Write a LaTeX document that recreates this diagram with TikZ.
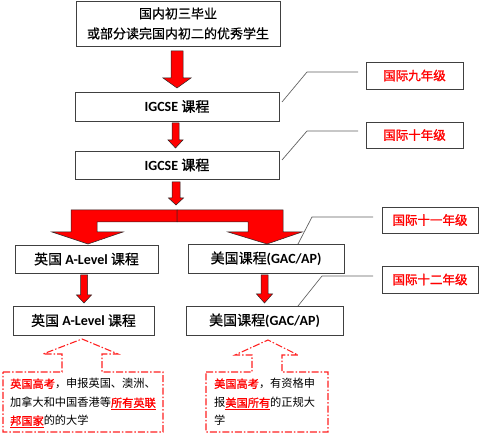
\documentclass[tikz,border=0pt]{standalone}
\usepackage{fontspec}
\setmainfont{Carlito}
\newfontfamily\cjk{Noto Sans CJK SC}
\newfontfamily\cjkm[FakeBold=0.6]{Noto Sans CJK SC}
\newfontfamily\cjkb[FakeBold=1.5]{Noto Sans CJK SC}
\definecolor{boxgray}{HTML}{404040}
\definecolor{leadgray}{HTML}{606060}
\definecolor{callred}{HTML}{FF2020}
\newcommand\redarrow[6]{%
  \draw[blockarrow] ({#1-#5},{#2}) -- ({#1+#5},{#2}) -- ({#1+#5},{#3}) -- ({#1+#6},{#3}) -- ({#1},{#4}) -- ({#1-#6},{#3}) -- ({#1-#5},{#3}) -- cycle;}
\begin{document}
\begin{tikzpicture}[x=1pt,y=-1pt,
  box/.style={draw=boxgray, line width=0.9pt, fill=white, inner sep=0pt, align=center},
  grade/.style={draw=boxgray, line width=0.9pt, text=red, font=\fontsize{12.5}{14}\selectfont\cjkb, inner sep=0pt},
  leader/.style={draw=leadgray, line width=0.7pt},
  blockarrow/.style={fill=red, draw=black!85, line width=0.5pt},
  callout/.style={draw=callred, line width=1.1pt, dash pattern=on 7pt off 2pt on 1.5pt off 2pt},
  ctext/.style={anchor=base west, inner sep=0pt, font=\fontsize{11.2}{13}\selectfont\cjk},
  ]
\useasboundingbox (0,0) rectangle (480,435);

% main boxes
\node[box, minimum width=204pt, minimum height=45pt, font=\fontsize{13}{20}\selectfont\cjkm] (top) at (178,23.5) {国内初三毕业\\或部分读完国内初二的优秀学生};
\node[box, minimum width=204pt, minimum height=29pt] (ig1) at (177,106.5) {\fontsize{14}{16}\selectfont\textbf{IGCSE} {\cjkb 课程}};
\node[box, minimum width=204pt, minimum height=28pt] (ig2) at (177,165) {\fontsize{14}{16}\selectfont\textbf{IGCSE} {\cjkb 课程}};
\node[box, minimum width=143pt, minimum height=28pt] (al1) at (86.5,259) {\fontsize{14}{16}\selectfont{\cjkm 英国} \textbf{A-Level} {\cjkm 课程}};
\node[box, minimum width=156pt, minimum height=29pt] (us1) at (266,258.5) {\fontsize{14}{16}\selectfont{\cjkm 美国课程}\textbf{(GAC/AP)}};
\node[box, minimum width=141pt, minimum height=29pt] (al2) at (83.5,320.5) {\fontsize{14}{16}\selectfont{\cjkm 英国} \textbf{A-Level} {\cjkm 课程}};
\node[box, minimum width=157pt, minimum height=29pt] (us2) at (264.5,320.5) {\fontsize{14}{16}\selectfont{\cjkm 美国课程}\textbf{(GAC/AP)}};

% grade labels
\node[grade, minimum width=97pt, minimum height=27pt] (g9) at (414.5,75.5) {国际九年级};
\node[grade, minimum width=97pt, minimum height=26pt] (g10) at (414.5,135) {国际十年级};
\node[grade, minimum width=96pt, minimum height=26pt] (g11) at (430,220) {国际十一年级};
\node[grade, minimum width=96pt, minimum height=27pt] (g12) at (430,279.5) {国际十二年级};

% leader lines
\coordinate (a9) at (358,72);  \coordinate (b9) at (307,72);  \coordinate (c9) at (282,102);
\coordinate (a10) at (358,131); \coordinate (b10) at (307,131); \coordinate (c10) at (282,160);
\coordinate (a11) at (373,217); \coordinate (b11) at (312,217); \coordinate (c11) at (298,244);
\coordinate (a12) at (373,276); \coordinate (b12) at (322,276); \coordinate (c12) at (298,306);
\draw[leader] (a9) -- (b9) -- (c9);
\draw[leader] (a10) -- (b10) -- (c10);
\draw[leader] (a11) -- (b11) -- (c11);
\draw[leader] (a12) -- (b12) -- (c12);

% block arrows
\redarrow{177}{51}{78}{88}{6}{14}
\redarrow{175.5}{123}{140}{148}{3.5}{7.5}
\redarrow{176}{182}{198}{205}{4}{7.5}
\redarrow{84}{275}{295}{303}{3.5}{7.5}
\redarrow{264.5}{275}{294}{303}{3.5}{8}
\draw[blockarrow] (177,210) -- (71,210) -- (71,232) -- (52,232) -- (88,244) -- (123,232) -- (97,232) -- (97,222) -- (177,222) -- cycle;
\draw[blockarrow] (177,210) -- (283,210) -- (283,232) -- (302,232) -- (267,244) -- (228,232) -- (248,232) -- (248,222) -- (177,222) -- cycle;

% callouts
\draw[callout] (3,372) -- (62,372) -- (62,354) -- (43,354) -- (82,339) -- (118,354) -- (102,354) -- (102,372) -- (163,372) -- (163,432) -- (3,432) -- cycle;
\draw[callout] (206,372) -- (252,372) -- (252,355) -- (235,355) -- (268,340) -- (298,355) -- (282,355) -- (282,372) -- (328,372) -- (328,432) -- (206,432) -- cycle;

\node[ctext] (l1) at (10,388) {{\cjkb\color{red}英国高考}，申报英国、澳洲、};
\node[ctext] (l2) at (10,407) {加拿大和中国香港等{\cjkb\color{red}\underline{所有英联}}};
\node[ctext] (l3) at (10,425) {{\cjkb\color{red}\underline{邦国家}}的的大学};
\node[ctext] (r1) at (214,388) {{\cjkb\color{red}美国高考}，有资格申};
\node[ctext] (r2) at (214,407) {报{\cjkb\color{red}\underline{美国所有}}的正规大};
\node[ctext] (r3) at (214,425) {学};
\end{tikzpicture}
\end{document}
